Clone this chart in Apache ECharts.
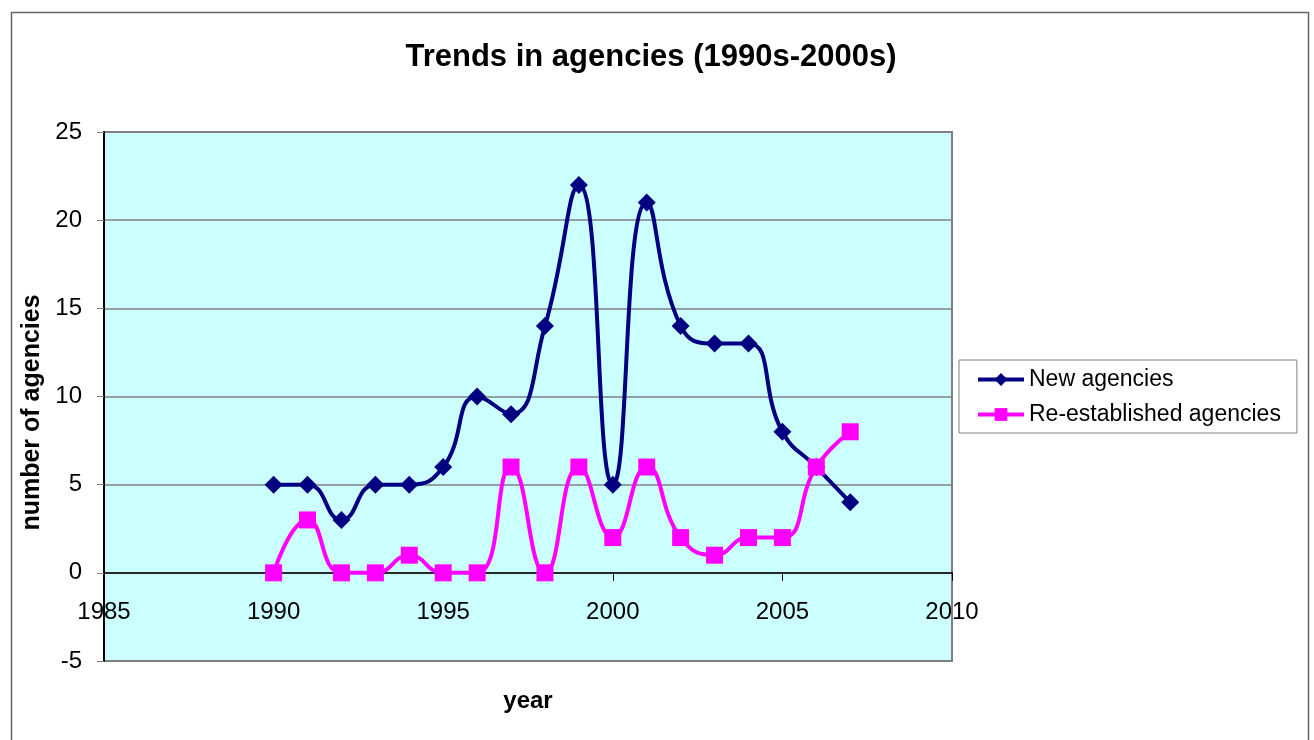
<!DOCTYPE html>
<html>
<head>
<meta charset="utf-8">
<title>Trends in agencies (1990s-2000s)</title>
<script src="https://cdn.jsdelivr.net/npm/echarts@6/dist/echarts.min.js"></script>
<style>
  html, body { margin: 0; padding: 0; background: #ffffff; }
  #chart { width: 1314px; height: 740px; }
</style>
</head>
<body>
<div id="chart"></div>
<script>
// Yearly counts of agencies
const years = [1990, 1991, 1992, 1993, 1994, 1995, 1996, 1997, 1998, 1999,
               2000, 2001, 2002, 2003, 2004, 2005, 2006, 2007];
const newAgencies = [5, 5, 3, 5, 5, 6, 10, 9, 14, 22, 5, 21, 14, 13, 13, 8, 6, 4];
const reEstablished = [0, 3, 0, 0, 1, 0, 0, 6, 0, 6, 2, 6, 2, 1, 2, 2, 6, 8];
const seriesNames = ['New agencies', 'Re-established agencies'];
const xTicks = { min: 1985, max: 2010, step: 5 };
const yTicks = { min: -5, max: 25, step: 5 };

const FONT = '"Liberation Sans", Arial, sans-serif';

function pairs(xs, ys) {
  return xs.map((x, i) => [x, ys[i]]);
}

const chart = echarts.init(document.getElementById('chart'), null, { renderer: 'canvas' });

chart.setOption({
  backgroundColor: '#ffffff',
  animation: false,
  graphic: [{
    type: 'rect',
    left: 9, top: 10,
    shape: { width: 1297, height: 740 },
    style: { fill: 'none', stroke: '#666666', lineWidth: 1.5 },
    silent: true
  }],
  title: {
    text: 'Trends in agencies (1990s-2000s)',
    left: 646, top: 37,
    textAlign: 'center',
    textStyle: { fontFamily: FONT, fontSize: 31, fontWeight: 'bold', color: '#000000' }
  },
  legend: {
    orient: 'vertical',
    left: 959, top: 360,
    padding: [8, 16, 7, 17],
    itemGap: 12,
    itemWidth: 46, itemHeight: 16,
    borderColor: '#808080', borderWidth: 1,
    backgroundColor: '#ffffff',
    lineStyle: { width: 4 },
    textStyle: { fontFamily: FONT, fontSize: 23, color: '#000000' },
    data: seriesNames
  },
  grid: {
    left: 104, right: 362, top: 132, bottom: 79,
    containLabel: false,
    outerBoundsMode: 'none',
    show: true,
    backgroundColor: '#CCFFFF',
    borderColor: '#808080', borderWidth: 2
  },
  xAxis: {
    type: 'value',
    min: xTicks.min, max: xTicks.max, interval: xTicks.step,
    name: 'year',
    nameLocation: 'middle',
    nameGap: 28,
    nameTextStyle: { fontFamily: FONT, fontSize: 24, fontWeight: 'bold', color: '#000000' },
    axisLine: { show: true, onZero: true, lineStyle: { color: '#000000', width: 1.5 } },
    axisTick: { show: true, inside: false, length: 8, lineStyle: { color: '#000000' } },
    axisLabel: {
      margin: -61,
      fontFamily: FONT, fontSize: 24, color: '#000000',
      formatter: v => String(v)
    },
    splitLine: { show: false }
  },
  yAxis: {
    type: 'value',
    min: yTicks.min, max: yTicks.max, interval: yTicks.step,
    name: 'number of agencies',
    nameLocation: 'middle',
    nameGap: 51,
    nameTextStyle: {
      fontFamily: FONT, fontSize: 25, fontWeight: 'bold', color: '#000000',
      padding: [0, 32, 0, 0]
    },
    axisLine: { show: true, onZero: false, lineStyle: { color: '#000000', width: 2 } },
    axisTick: { show: true, inside: false, length: 7, lineStyle: { color: '#808080' } },
    axisLabel: { margin: 22, fontFamily: FONT, fontSize: 24, color: '#000000' },
    splitLine: { show: true, lineStyle: { color: '#808080', width: 1.5 } }
  },
  series: [
    {
      name: seriesNames[0],
      type: 'line',
      data: pairs(years, newAgencies),
      smooth: 0.5,
      symbol: 'diamond',
      symbolSize: 18,
      color: '#000080',
      lineStyle: { width: 4, color: '#000080' },
      itemStyle: { color: '#000080' },
      z: 3
    },
    {
      name: seriesNames[1],
      type: 'line',
      data: pairs(years, reEstablished),
      smooth: 0.5,
      symbol: 'rect',
      symbolSize: 17,
      color: '#FF00FF',
      lineStyle: { width: 4, color: '#FF00FF' },
      itemStyle: { color: '#FF00FF' },
      z: 4
    }
  ]
});
</script>
</body>
</html>
